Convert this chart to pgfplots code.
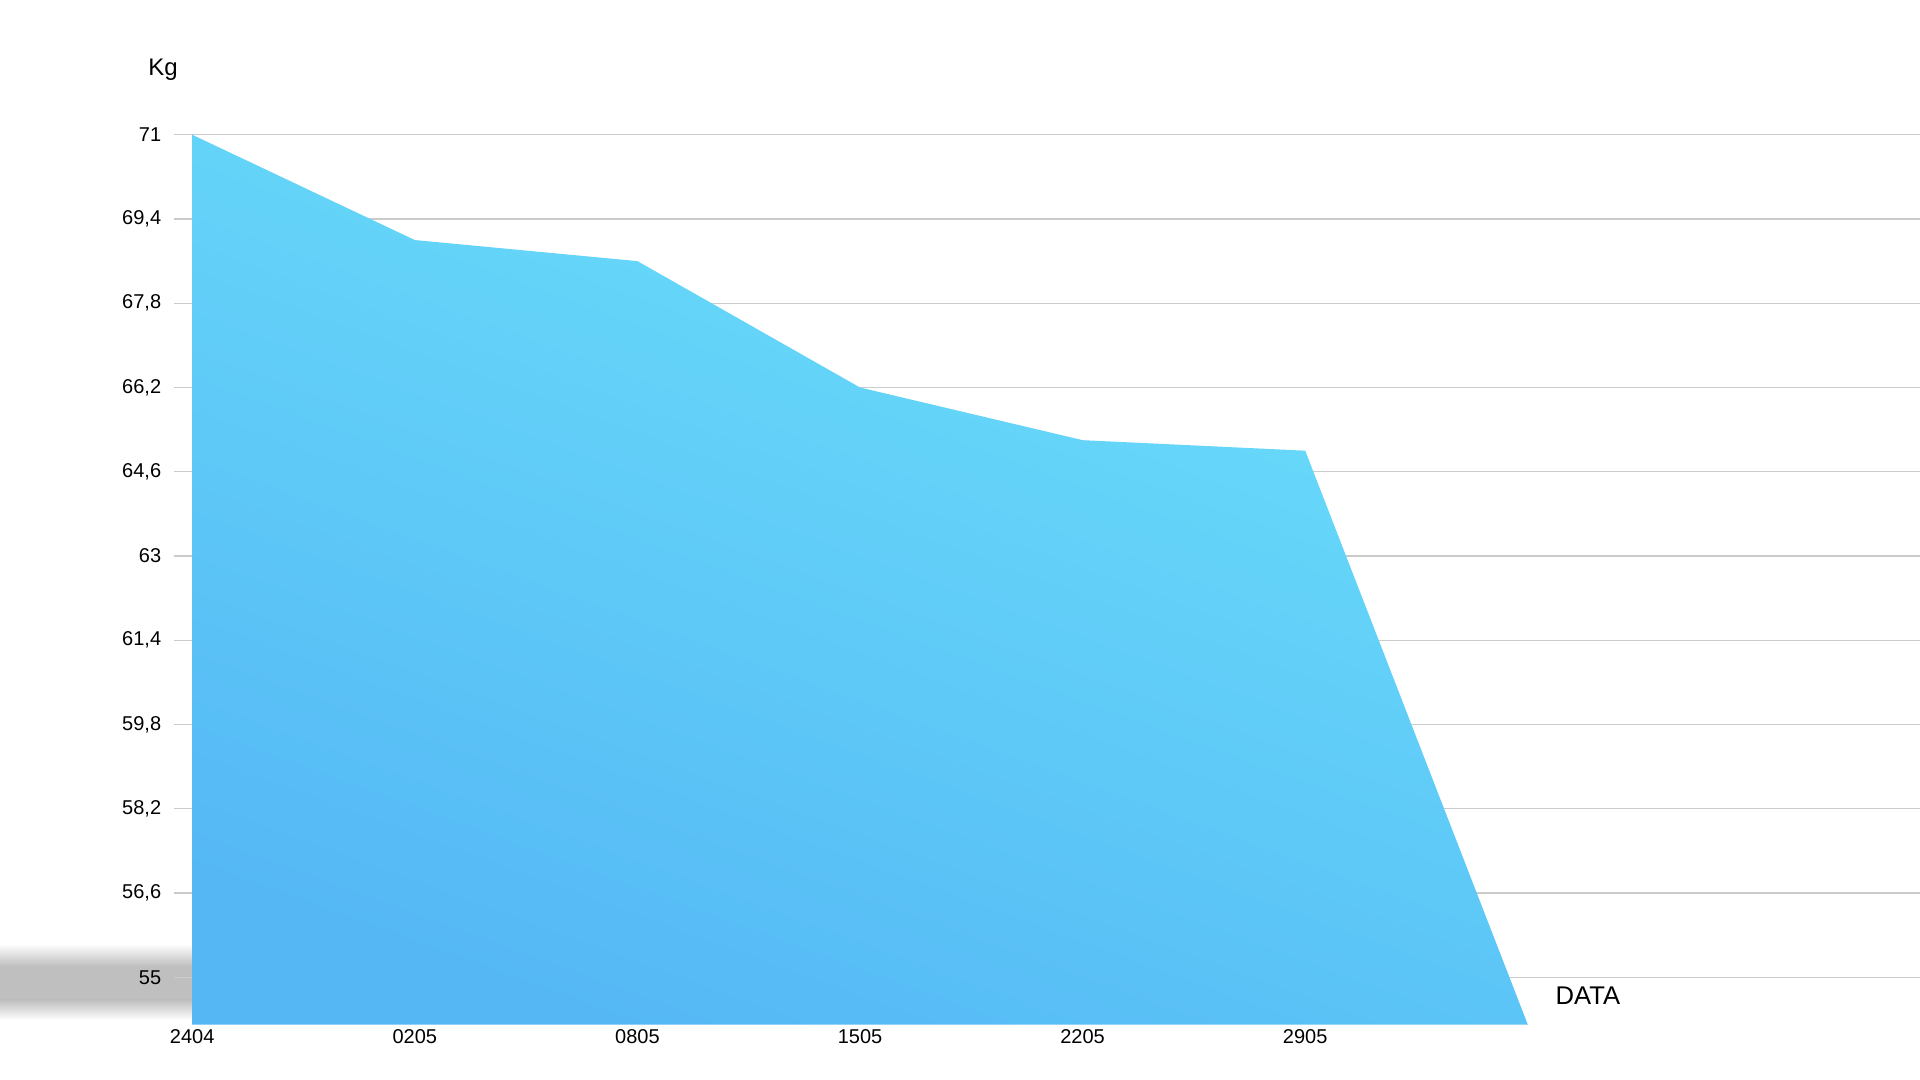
\documentclass[border=0pt]{standalone}
\usepackage{fontspec}
\setmainfont{Liberation Sans}
\usepackage{pgfplots}
\pgfplotsset{compat=1.18}
\definecolor{gridgray}{HTML}{CBCBCB}
\definecolor{areatop}{HTML}{6BE0FA}
\definecolor{areabot}{HTML}{55B8F5}
\definecolor{shadowgray}{HTML}{BFBFBF}

\begin{document}
\begin{tikzpicture}
% floor shadow to the left of the axis
\shade[top color=white, bottom color=shadowgray] (0,57pt) rectangle (96pt,68pt);
\fill[shadowgray] (0,40pt) rectangle (96pt,57.05pt);
\shade[top color=shadowgray, bottom color=white] (0,30pt) rectangle (96pt,40.05pt);
\begin{axis}[
  at={(96.1pt,27.65pt)}, anchor=south west,
  x=111.3pt, y=26.33pt,
  xmin=0, xmax=7.76, ymin=54.1, ymax=71.3,
  axis line style={draw=none},
  xtick={0,...,6},
  xticklabels={2404,0205,0805,1505,2205,2905,{}},
  xtick style={draw=none},
  ytick={55,56.6,58.2,59.8,61.4,63,64.6,66.2,67.8,69.4,71},
  yticklabels={55,{56,6},{58,2},{59,8},{61,4},63,{64,6},{66,2},{67,8},{69,4},71},
  ytick style={draw=gridgray, line width=0.6pt},
  tick align=outside, major tick length=9pt,
  xtick pos=bottom, ytick pos=left,
  ymajorgrids, grid style={draw=gridgray, line width=0.6pt},
  xticklabel style={font=\fontsize{10}{12}\selectfont, yshift=10pt},
  yticklabel style={font=\fontsize{10}{12}\selectfont, anchor=east, xshift=-3pt},
  xlabel={DATA},
  xlabel style={at={(axis description cs:0.808,0.0322)}, anchor=center,
    font=\fontsize{12.8}{15}\selectfont},
  ylabel={Kg},
  ylabel style={at={(axis description cs:-0.0169,1.054)}, rotate=-90,
    anchor=center, font=\fontsize{12}{14}\selectfont},
]
\addplot[draw=none, top color=areatop, bottom color=areabot, shading angle=-20]
  coordinates {(0,71) (1,69.0) (2,68.6) (3,66.2) (4,65.2) (5,65.0) (6,54.1)}
  \closedcycle;
\end{axis}
\pgfresetboundingbox
\path[use as bounding box] (0,0) rectangle (960pt,540pt);
\end{tikzpicture}
\end{document}
